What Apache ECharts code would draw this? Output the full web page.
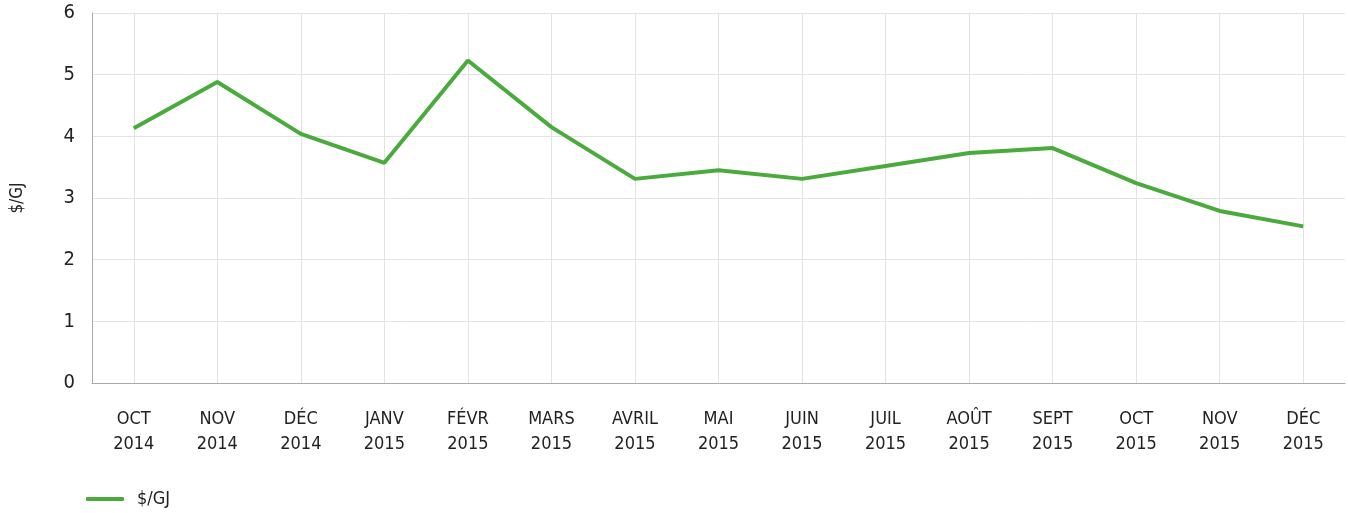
<!DOCTYPE html>
<html>
<head>
<meta charset="utf-8">
<script src="https://cdn.jsdelivr.net/npm/echarts@6/dist/echarts.min.js"></script>
<style>
  html, body { margin: 0; padding: 0; background: #fff; }
  #chart { width: 1348px; height: 513px; }
</style>
</head>
<body>
<div id="chart"></div>
<script>
// catégories (mois)
const months = ["OCT\n2014", "NOV\n2014", "DÉC\n2014", "JANV\n2015", "FÉVR\n2015", "MARS\n2015", "AVRIL\n2015",
  "MAI\n2015", "JUIN\n2015", "JUIL\n2015", "AOÛT\n2015", "SEPT\n2015", "OCT\n2015", "NOV\n2015", "DÉC\n2015"];
// prix en $/GJ
const prices = [4.13, 4.88, 4.04, 3.57, 5.23, 4.15, 3.31, 3.45, 3.31, 3.52, 3.73, 3.81, 3.24, 2.79, 2.54];
const seriesName = "$/GJ";

const font = '"Liberation Sans Narrow", "DejaVu Sans Condensed", sans-serif';

const chart = echarts.init(document.getElementById("chart"));
chart.setOption({
  animation: false,
  textStyle: { fontFamily: font },
  grid: { left: 92, right: 3, top: 13, bottom: 130 },
  legend: {
    left: 81,
    bottom: 0,
    itemWidth: 38,
    itemHeight: 4,
    itemGap: 12,
    icon: "roundRect",
    textStyle: { fontFamily: font, fontSize: 18, color: "#222", padding: [0, 0, 0, 8] },
    data: [seriesName],
  },
  xAxis: {
    type: "category",
    data: months,
    boundaryGap: true,
    axisLine: { lineStyle: { color: "#aaa", width: 1 } },
    axisTick: { show: false },
    splitLine: { show: true, alignWithLabel: true, lineStyle: { color: "#e3e3e3", width: 1 } },
    axisLabel: {
      interval: 0,
      margin: 24,
      fontFamily: font,
      fontSize: 18,
      lineHeight: 25,
      color: "#222",
    },
  },
  yAxis: {
    type: "value",
    min: 0,
    max: 6,
    interval: 1,
    name: seriesName,
    nameLocation: "middle",
    nameGap: 66,
    nameRotate: 90,
    nameTextStyle: { fontFamily: font, fontSize: 17, color: "#222" },
    axisLine: { show: true, lineStyle: { color: "#aaa", width: 1 } },
    axisTick: { show: false },
    splitLine: { lineStyle: { color: "#e3e3e3", width: 1 } },
    axisLabel: { margin: 17, fontFamily: font, fontSize: 20, color: "#222" },
  },
  series: [
    {
      name: seriesName,
      type: "line",
      data: prices,
      symbol: "none",
      lineStyle: { color: "#4aab3d", width: 4 },
      itemStyle: { color: "#4aab3d" },
    },
  ],
});
</script>
</body>
</html>
